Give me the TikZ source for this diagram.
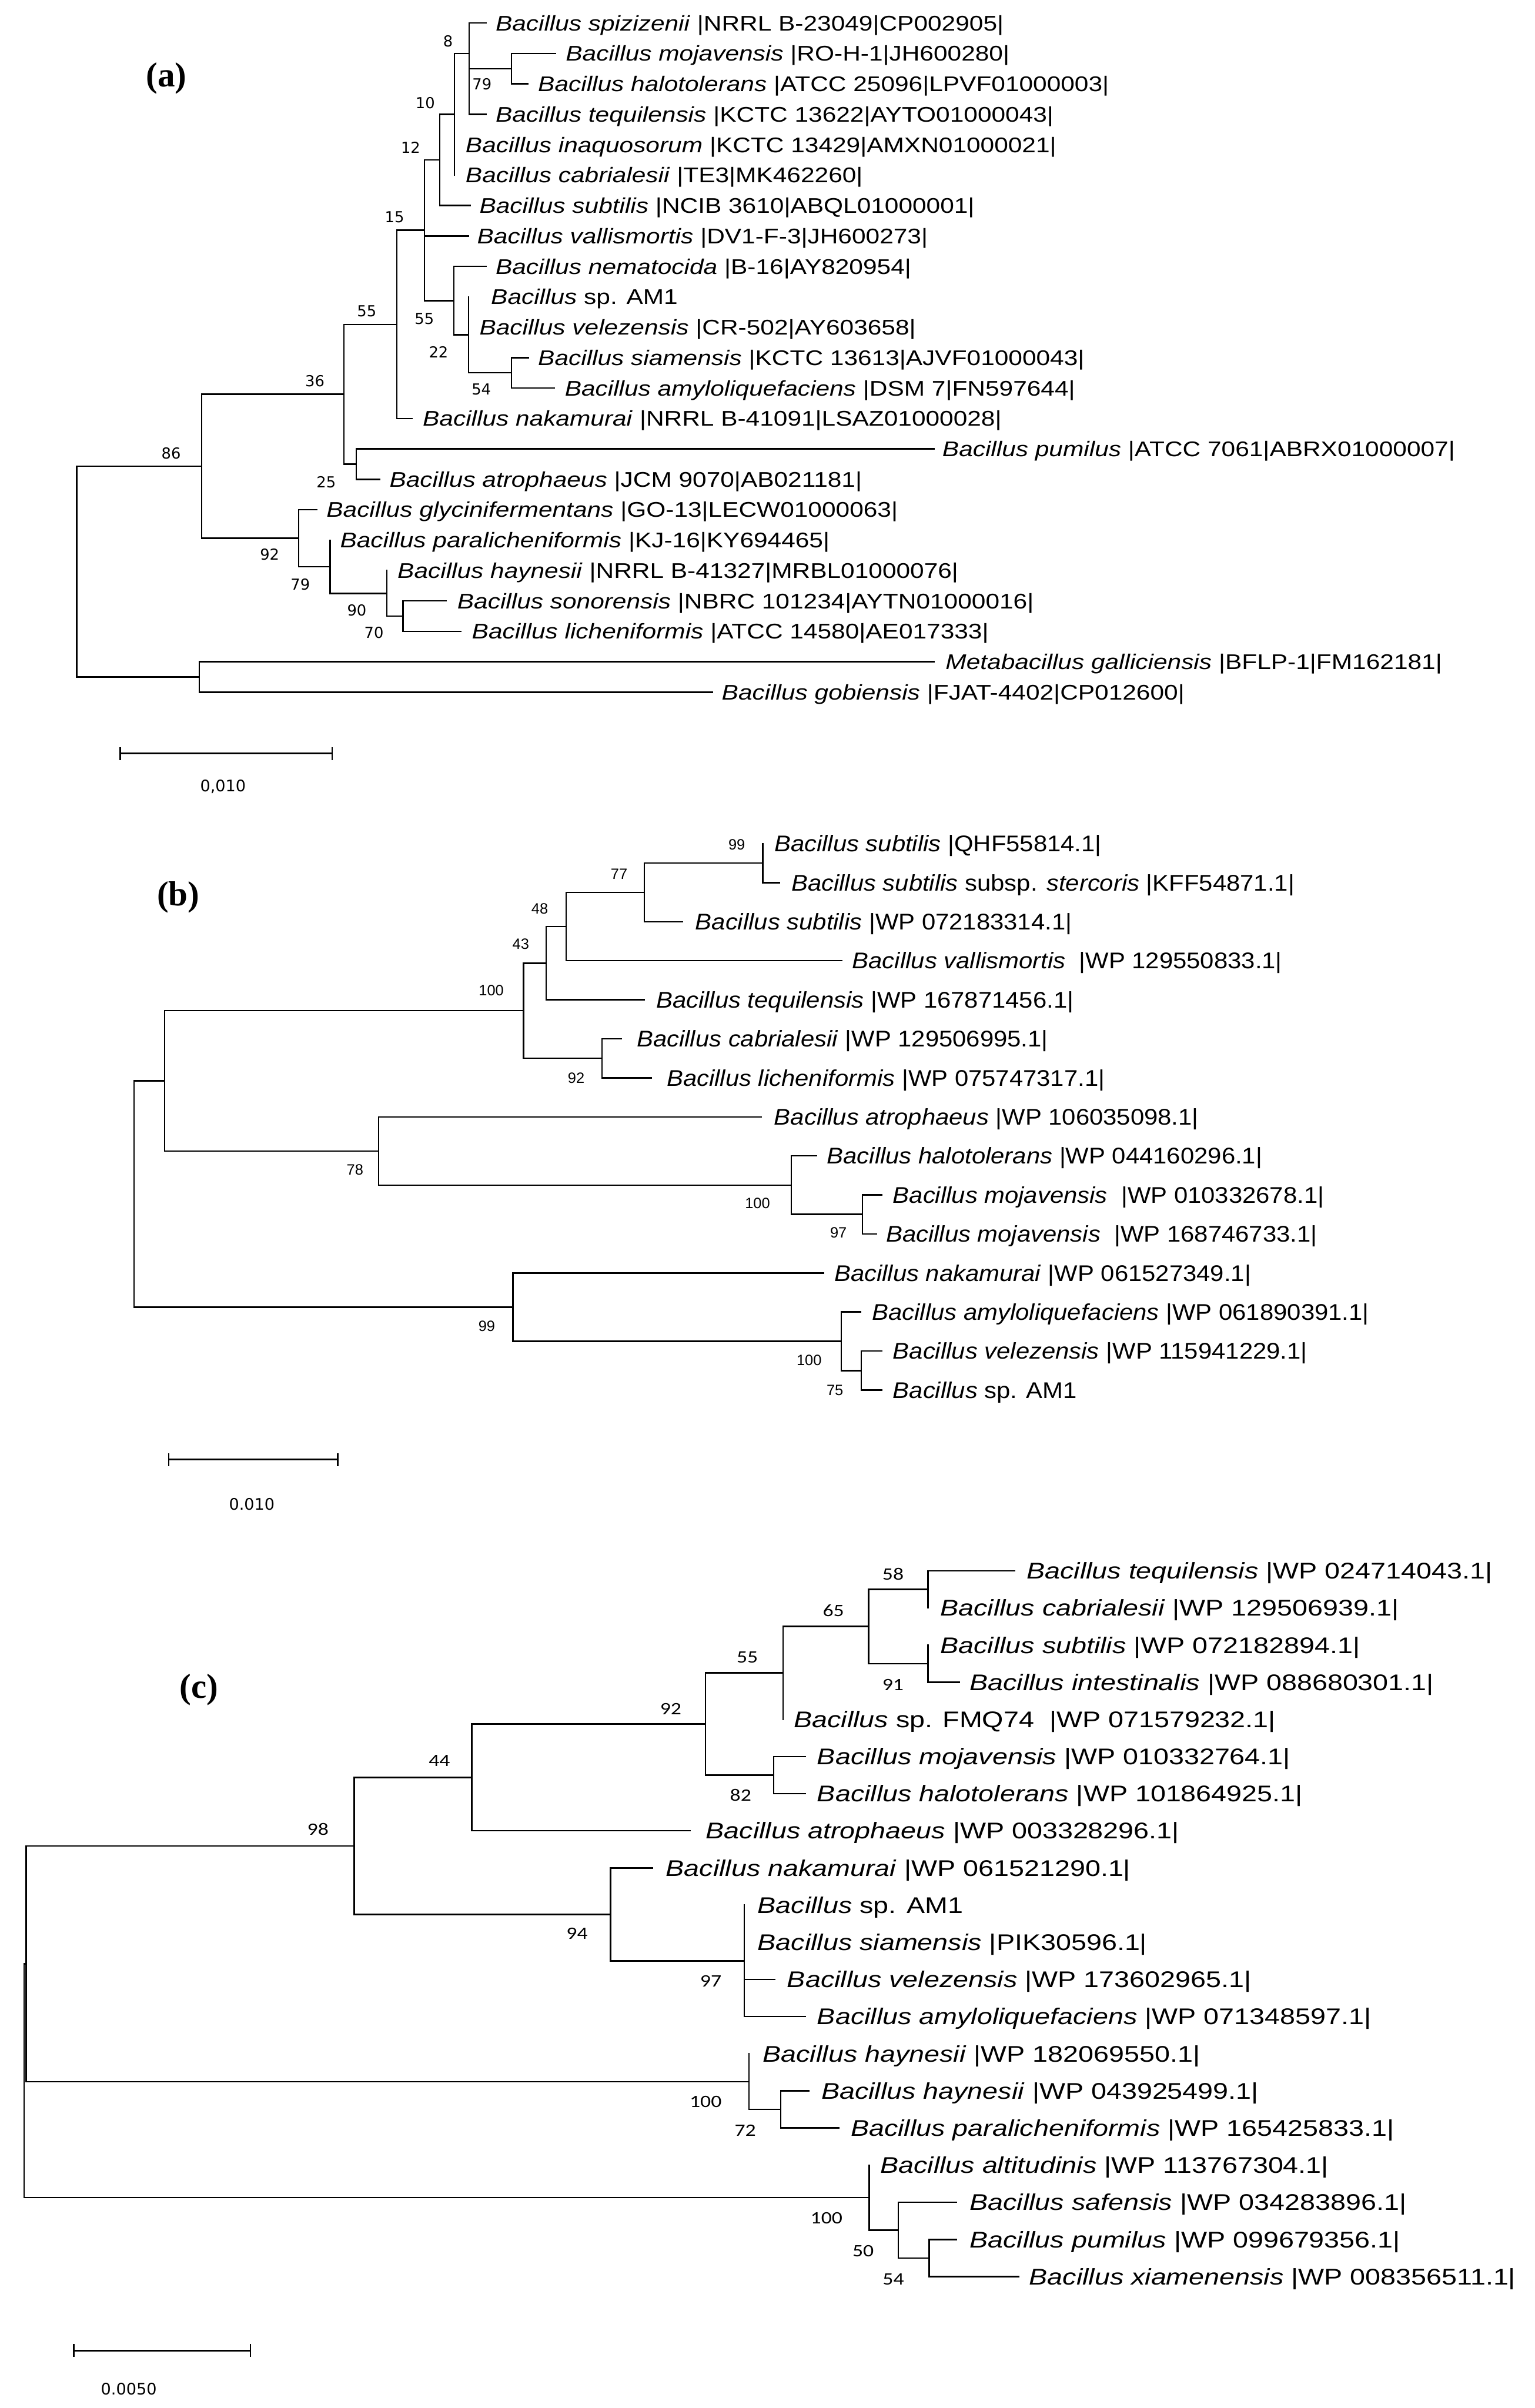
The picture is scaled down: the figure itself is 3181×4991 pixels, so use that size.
\documentclass[tikz,border=0pt]{standalone}
\usepackage{fontspec}
\setmainfont{Liberation Sans}
\newfontfamily\labfont{Liberation Sans}
\newfontfamily\dvfont{DejaVu Sans}
\newfontfamily\calfont{Carlito}
\newfontfamily\serfont{Liberation Serif}
\newcommand{\scla}[1]{\scalebox{1.175}[1]{#1}}
\newcommand{\sclb}[1]{\scalebox{1.085}[1]{#1}}
\newcommand{\sclc}[1]{\scalebox{1.21}[1]{#1}}
\newcommand{\brH}[2]{\draw[br] (#1|-#2) -- (#2);}
\newcommand{\brV}[3]{\draw[br] (#1|-#2) -- (#1|-#3);}
\tikzset{
 br/.style={line width=0.3mm, line cap=rect},
 la/.style={anchor=base west, inner sep=0pt, yshift=-1.58mm, font=\labfont\fontsize{12.52}{15}\selectfont},
 lb/.style={anchor=base west, inner sep=0pt, yshift=-1.68mm, font=\labfont\fontsize{13.37}{16}\selectfont},
 lc/.style={anchor=base west, inner sep=0pt, yshift=-1.68mm, font=\labfont\fontsize{13.37}{16}\selectfont},
 bsa/.style={inner sep=0pt, font=\dvfont\fontsize{8.93}{10}\selectfont},
 bsb/.style={inner sep=0pt, font=\labfont\fontsize{8.82}{10}\selectfont},
 bsc/.style={inner sep=0pt, font=\calfont\fontsize{10.24}{12}\selectfont},
 scl/.style={inner sep=0pt, font=\dvfont\fontsize{9.39}{11}\selectfont},
 pan/.style={inner sep=0pt, font=\serfont\bfseries\fontsize{20.49}{24}\selectfont},
}
\begin{document}
\begin{tikzpicture}[x=0.1mm,y=-0.1mm]
\fill[white] (0,0) rectangle (3181,4991);
\useasboundingbox (0,0) rectangle (3181,4991);

% ================= PANEL (a) =================
\node[pan] (pa) at (345,163) {(a)};
\coordinate (aR) at (159.1,1184.8);
\coordinate (aA) at (418.2,966.3);
\coordinate (aB) at (712.9,817.1);
\coordinate (aD) at (822.5,672.3);
\coordinate (aF) at (879.5,477.3);
\coordinate (aG) at (911.6,331.5);
\coordinate (aN10) at (941.9,236.9);
\coordinate (aN8) at (972.2,110.8);
\coordinate (aN79) at (1060.1,142.4);
\coordinate (aH) at (940.7,623);
\coordinate (aN22) at (971,694);
\coordinate (aN54) at (1060,772.7);
\coordinate (aE) at (738.3,961.9);
\coordinate (aC) at (619.1,1115.6);
\coordinate (aN79b) at (684.1,1174.7);
\coordinate (aN90) at (801.9,1229.8);
\coordinate (aN70) at (835.4,1277.1);
\coordinate (aO) at (412.9,1403.2);
\coordinate (a0) at (1007.3,47.8);
\coordinate (a1) at (1150.9,110.8);
\coordinate (a2) at (1093.5,173.9);
\coordinate (a3) at (1007.4,236.9);
\coordinate (a4) at (941.9,300.0);
\coordinate (a5) at (941.9,363.0);
\coordinate (a6) at (974,426.0);
\coordinate (a7) at (971,489.1);
\coordinate (a8) at (1007.4,552.1);
\coordinate (a9) at (971,615.2);
\coordinate (a10) at (971,678.2);
\coordinate (a11) at (1095.4,741.2);
\coordinate (a12) at (1149,804.3);
\coordinate (a13) at (853.5,867.3);
\coordinate (a14) at (1935.3,930.4);
\coordinate (a15) at (786.5,993.4);
\coordinate (a16) at (656,1056.4);
\coordinate (a17) at (684.1,1119.5);
\coordinate (a18) at (801.9,1182.5);
\coordinate (a19) at (925.1,1245.6);
\coordinate (a20) at (955.3,1308.6);
\coordinate (a21) at (1935.3,1371.6);
\coordinate (a22) at (1476.1,1434.7);

\brV{aR}{aA}{aO} \brH{aR}{aA} \brH{aR}{aO}
\brV{aA}{aB}{aC} \brH{aA}{aB} \brH{aA}{aC}
\brV{aB}{aD}{aE} \brH{aB}{aD} \brH{aB}{aE}
\brV{aD}{aF}{a13} \brH{aD}{aF} \brH{aD}{a13}
\brV{aF}{aG}{aH} \brH{aF}{aG} \brH{aF}{a7} \brH{aF}{aH}
\brV{aG}{aN10}{a6} \brH{aG}{aN10} \brH{aG}{a6}
\brV{aN10}{aN8}{a5} \brH{aN10}{aN8}
\brV{aN8}{a0}{a3} \brH{aN8}{a0} \brH{aN8}{aN79} \brH{aN8}{a3}
\brV{aN79}{a1}{a2} \brH{aN79}{a1} \brH{aN79}{a2}
\brV{aH}{a8}{aN22} \brH{aH}{a8} \brH{aH}{aN22}
\brV{aN22}{a9}{aN54} \brH{aN22}{aN54}
\brV{aN54}{a11}{a12} \brH{aN54}{a11} \brH{aN54}{a12}
\brV{aE}{a14}{a15} \brH{aE}{a14} \brH{aE}{a15}
\brV{aC}{a16}{aN79b} \brH{aC}{a16} \brH{aC}{aN79b}
\brV{aN79b}{a17}{aN90} \brH{aN79b}{aN90}
\brV{aN90}{a18}{aN70} \brH{aN90}{aN70}
\brV{aN70}{a19}{a20} \brH{aN70}{a19} \brH{aN70}{a20}
\brV{aO}{a21}{a22} \brH{aO}{a21} \brH{aO}{a22}

\node[la] (ta0) at (1026.5,47.8) {\scla{\textit{Bacillus spizizenii} |NRRL B-23049|CP002905|}};
\node[la] (ta1) at (1172,110.8) {\scla{\textit{Bacillus mojavensis} |RO-H-1|JH600280|}};
\node[la] (ta2) at (1114.5,173.9) {\scla{\textit{Bacillus halotolerans} |ATCC 25096|LPVF01000003|}};
\node[la] (ta3) at (1026.5,236.9) {\scla{\textit{Bacillus tequilensis} |KCTC 13622|AYTO01000043|}};
\node[la] (ta4) at (964.3,300.0) {\scla{\textit{Bacillus inaquosorum} |KCTC 13429|AMXN01000021|}};
\node[la] (ta5) at (964.3,363.0) {\scla{\textit{Bacillus cabrialesii} |TE3|MK462260|}};
\node[la] (ta6) at (993,426.0) {\scla{\textit{Bacillus subtilis} |NCIB 3610|ABQL01000001|}};
\node[la] (ta7) at (988.3,489.1) {\scla{\textit{Bacillus vallismortis} |DV1-F-3|JH600273|}};
\node[la] (ta8) at (1026.5,552.1) {\scla{\textit{Bacillus nematocida} |B-16|AY820954|}};
\node[la] (ta9) at (1017,615.2) {\scla{\textit{Bacillus} sp. AM1}};
\node[la] (ta10) at (993,678.2) {\scla{\textit{Bacillus velezensis} |CR-502|AY603658|}};
\node[la] (ta11) at (1114.5,741.2) {\scla{\textit{Bacillus siamensis} |KCTC 13613|AJVF01000043|}};
\node[la] (ta12) at (1170,804.3) {\scla{\textit{Bacillus amyloliquefaciens} |DSM 7|FN597644|}};
\node[la] (ta13) at (875.6,867.3) {\scla{\textit{Bacillus nakamurai} |NRRL B-41091|LSAZ01000028|}};
\node[la] (ta14) at (1952.5,930.4) {\scla{\textit{Bacillus pumilus} |ATCC 7061|ABRX01000007|}};
\node[la] (ta15) at (806.6,993.4) {\scla{\textit{Bacillus atrophaeus} |JCM 9070|AB021181|}};
\node[la] (ta16) at (676,1056.4) {\scla{\textit{Bacillus glycinifermentans} |GO-13|LECW01000063|}};
\node[la] (ta17) at (704.2,1119.5) {\scla{\textit{Bacillus paralicheniformis} |KJ-16|KY694465|}};
\node[la] (ta18) at (823.3,1182.5) {\scla{\textit{Bacillus haynesii} |NRRL B-41327|MRBL01000076|}};
\node[la] (ta19) at (947.2,1245.6) {\scla{\textit{Bacillus sonorensis} |NBRC 101234|AYTN01000016|}};
\node[la] (ta20) at (977.4,1308.6) {\scla{\textit{Bacillus licheniformis} |ATCC 14580|AE017333|}};
\node[la] (ta21) at (1959.2,1371.6) {\scla{\textit{Metabacillus galliciensis} |BFLP-1|FM162181|}};
\node[la] (ta22) at (1495.3,1434.7) {\scla{\textit{Bacillus gobiensis} |FJAT-4402|CP012600|}};

\node[bsa] (ba1) at (928.6,85) {8};
\node[bsa] (ba2) at (999,174.3) {79};
\node[bsa] (ba3) at (881.3,213.5) {10};
\node[bsa] (ba4) at (851,305.4) {12};
\node[bsa] (ba5) at (817.7,450) {15};
\node[bsa] (ba6) at (760.1,645.2) {55};
\node[bsa] (ba7) at (879.5,661.2) {55};
\node[bsa] (ba8) at (909,730.2) {22};
\node[bsa] (ba9) at (997.6,806.8) {54};
\node[bsa] (ba10) at (652.6,789.9) {36};
\node[bsa] (ba11) at (354.6,940) {86};
\node[bsa] (ba12) at (676,999.7) {25};
\node[bsa] (ba13) at (558.9,1148.7) {92};
\node[bsa] (ba14) at (622.5,1211.1) {79};
\node[bsa] (ba15) at (739.6,1265.3) {90};
\node[bsa] (ba16) at (775.1,1311.4) {70};

\coordinate (sa1) at (249,1561.7);
\coordinate (sa2) at (688.3,1561.7);
\draw[br] (sa1) -- (sa2);
\draw[br] ([yshift=1.2mm]sa1) -- ([yshift=-1.2mm]sa1);
\draw[br] ([yshift=1.2mm]sa2) -- ([yshift=-1.2mm]sa2);
\node[scl] (sla) at (462.2,1630.7) {0,010};

% ================= PANEL (b) =================
\node[pan] (pb) at (369.6,1860) {(b)};
\coordinate (bR) at (278,2474.8);
\coordinate (bP) at (340.9,2240.3);
\coordinate (bN100) at (1085.1,2094.9);
\coordinate (bN43) at (1132,1996.3);
\coordinate (bN48) at (1173.1,1920.4);
\coordinate (bN77) at (1335.7,1849.6);
\coordinate (bN99) at (1581,1789);
\coordinate (bN92) at (1247.7,2193.5);
\coordinate (bN78) at (784.5,2385.6);
\coordinate (bN100c) at (1640,2456.4);
\coordinate (bN97) at (1787.7,2517);
\coordinate (bQ) at (1063.2,2709.2);
\coordinate (bN100d) at (1743.5,2780);
\coordinate (bN75) at (1785,2840.7);
\coordinate (b0) at (1581,1748.5);
\coordinate (b1) at (1615.7,1829.4);
\coordinate (b2) at (1414.8,1910.3);
\coordinate (b3) at (1744.8,1991.2);
\coordinate (b4) at (1335.7,2072.1);
\coordinate (b5) at (1287.9,2153);
\coordinate (b6) at (1350.1,2233.9);
\coordinate (b7) at (1578.1,2314.8);
\coordinate (b8) at (1692.2,2395.7);
\coordinate (b9) at (1828,2476.6);
\coordinate (b10) at (1816.6,2557.5);
\coordinate (b11) at (1707.4,2638.4);
\coordinate (b12) at (1783,2719.3);
\coordinate (b13) at (1828,2800.2);
\coordinate (b14) at (1828,2881.1);

\brV{bR}{bP}{bQ} \brH{bR}{bP} \brH{bR}{bQ}
\brV{bP}{bN100}{bN78} \brH{bP}{bN100} \brH{bP}{bN78}
\brV{bN100}{bN43}{bN92} \brH{bN100}{bN43} \brH{bN100}{bN92}
\brV{bN43}{bN48}{b4} \brH{bN43}{bN48} \brH{bN43}{b4}
\brV{bN48}{bN77}{b3} \brH{bN48}{bN77} \brH{bN48}{b3}
\brV{bN77}{bN99}{b2} \brH{bN77}{bN99} \brH{bN77}{b2}
\brV{bN99}{b0}{b1} \brH{bN99}{b1}
\brV{bN92}{b5}{b6} \brH{bN92}{b5} \brH{bN92}{b6}
\brV{bN78}{b7}{bN100c} \brH{bN78}{b7} \brH{bN78}{bN100c}
\brV{bN100c}{b8}{bN97} \brH{bN100c}{b8} \brH{bN100c}{bN97}
\brV{bN97}{b9}{b10} \brH{bN97}{b9} \brH{bN97}{b10}
\brV{bQ}{b11}{bN100d} \brH{bQ}{b11} \brH{bQ}{bN100d}
\brV{bN100d}{b12}{bN75} \brH{bN100d}{b12} \brH{bN100d}{bN75}
\brV{bN75}{b13}{b14} \brH{bN75}{b13} \brH{bN75}{b14}

\node[lb] (tb0) at (1604.2,1748.5) {\sclb{\textit{Bacillus subtilis} |QHF55814.1|}};
\node[lb] (tb1) at (1639.6,1829.4) {\sclb{\textit{Bacillus subtilis} subsp. \textit{stercoris} |KFF54871.1|}};
\node[lb] (tb2) at (1440.6,1910.3) {\sclb{\textit{Bacillus subtilis} |WP 072183314.1|}};
\node[lb] (tb3) at (1765.9,1991.2) {\sclb{\textit{Bacillus vallismortis}\ \ |WP 129550833.1|}};
\node[lb] (tb4) at (1359.3,2072.1) {\sclb{\textit{Bacillus tequilensis} |WP 167871456.1|}};
\node[lb] (tb5) at (1319.3,2153) {\sclb{\textit{Bacillus cabrialesii} |WP 129506995.1|}};
\node[lb] (tb6) at (1381.3,2233.9) {\sclb{\textit{Bacillus licheniformis} |WP 075747317.1|}};
\node[lb] (tb7) at (1604,2314.8) {\sclb{\textit{Bacillus atrophaeus} |WP 106035098.1|}};
\node[lb] (tb8) at (1713.3,2395.7) {\sclb{\textit{Bacillus halotolerans} |WP 044160296.1|}};
\node[lb] (tb9) at (1850,2476.6) {\sclb{\textit{Bacillus mojavensis}\ \ |WP 010332678.1|}};
\node[lb] (tb10) at (1835.7,2557.5) {\sclb{\textit{Bacillus mojavensis}\ \ |WP 168746733.1|}};
\node[lb] (tb11) at (1728.6,2638.4) {\sclb{\textit{Bacillus nakamurai} |WP 061527349.1|}};
\node[lb] (tb12) at (1807,2719.3) {\sclb{\textit{Bacillus amyloliquefaciens} |WP 061890391.1|}};
\node[lb] (tb13) at (1850,2800.2) {\sclb{\textit{Bacillus velezensis} |WP 115941229.1|}};
\node[lb] (tb14) at (1850,2881.1) {\sclb{\textit{Bacillus} sp. AM1}};

\node[bsb] (bb1) at (1527,1750.4) {99};
\node[bsb] (bb2) at (1283.1,1811.7) {77};
\node[bsb] (bb3) at (1118.6,1883.2) {48};
\node[bsb] (bb4) at (1079.4,1957.1) {43};
\node[bsb] (bb5) at (1018.2,2053) {100};
\node[bsb] (bb6) at (1194.2,2234.2) {92};
\node[bsb] (bb7) at (735.7,2424.1) {78};
\node[bsb] (bb8) at (1570,2494.2) {100};
\node[bsb] (bb9) at (1737.8,2555) {97};
\node[bsb] (bb10) at (1008.9,2749.1) {99};
\node[bsb] (bb11) at (1677,2819) {100};
\node[bsb] (bb12) at (1730.5,2881.1) {75};

\coordinate (sb1) at (350,3025);
\coordinate (sb2) at (700,3025);
\draw[br] (sb1) -- (sb2);
\draw[br] ([yshift=1.2mm]sb1) -- ([yshift=-1.2mm]sb1);
\draw[br] ([yshift=1.2mm]sb2) -- ([yshift=-1.2mm]sb2);
\node[scl] (slb) at (522,3118) {0.010};

% ================= PANEL (c) =================
\node[pan] (pc) at (412.5,3502.7) {(c)};
\coordinate (cR0) at (50,4312);
\coordinate (cR1) at (54,4070.1);
\coordinate (cN98) at (733.9,3825.9);
\coordinate (cN44) at (977.7,3683.9);
\coordinate (cN92) at (1462.5,3573.2);
\coordinate (cN55) at (1623.2,3467.4);
\coordinate (cN65) at (1800.2,3371.1);
\coordinate (cN58) at (1923.5,3294.1);
\coordinate (cN91) at (1923.5,3448.1);
\coordinate (cN82) at (1603.5,3679.1);
\coordinate (cN94) at (1265.6,3967.9);
\coordinate (cN97) at (1542.9,4064.1);
\coordinate (cN100h) at (1552.5,4314.4);
\coordinate (cN72) at (1617.9,4372.1);
\coordinate (cN100p) at (1801.8,4555);
\coordinate (cN50) at (1862,4622.4);
\coordinate (cN54) at (1925.6,4680.1);
\coordinate (c0) at (2102.5,3255.6);
\coordinate (c1) at (1923.5,3332.6);
\coordinate (c2) at (1923.5,3409.6);
\coordinate (c3) at (1987.8,3486.6);
\coordinate (c4) at (1623.2,3563.6);
\coordinate (c5) at (1669.4,3640.6);
\coordinate (c6) at (1669.4,3717.6);
\coordinate (c7) at (1430.4,3794.6);
\coordinate (c8) at (1352.7,3871.6);
\coordinate (c9) at (1542.9,3948.6);
\coordinate (c10) at (1542.9,4025.6);
\coordinate (c11) at (1606,4102.6);
\coordinate (c12) at (1669.4,4179.6);
\coordinate (c13) at (1552.5,4256.6);
\coordinate (c14) at (1676.9,4333.6);
\coordinate (c15) at (1738,4410.6);
\coordinate (c16) at (1801.8,4487.6);
\coordinate (c17) at (1982.4,4564.6);
\coordinate (c18) at (1982.4,4641.6);
\coordinate (c19) at (2111.1,4718.6);

\brV{cR0}{cR1}{cN100p} \brH{cR0}{cR1} \brH{cR0}{cN100p}
\brV{cR1}{cN98}{cN100h} \brH{cR1}{cN98} \brH{cR1}{cN100h}
\brV{cN98}{cN44}{cN94} \brH{cN98}{cN44} \brH{cN98}{cN94}
\brV{cN44}{cN92}{c7} \brH{cN44}{cN92} \brH{cN44}{c7}
\brV{cN92}{cN55}{cN82} \brH{cN92}{cN55} \brH{cN92}{cN82}
\brV{cN55}{cN65}{c4} \brH{cN55}{cN65}
\brV{cN65}{cN58}{cN91} \brH{cN65}{cN58} \brH{cN65}{cN91}
\brV{cN58}{c0}{c1} \brH{cN58}{c0}
\brV{cN91}{c2}{c3} \brH{cN91}{c3}
\brV{cN82}{c5}{c6} \brH{cN82}{c5} \brH{cN82}{c6}
\brV{cN94}{c8}{cN97} \brH{cN94}{c8} \brH{cN94}{cN97}
\brV{cN97}{c9}{c12} \brH{cN97}{c11} \brH{cN97}{c12}
\brV{cN100h}{c13}{cN72} \brH{cN100h}{cN72}
\brV{cN72}{c14}{c15} \brH{cN72}{c14} \brH{cN72}{c15}
\brV{cN100p}{c16}{cN50} \brH{cN100p}{cN50}
\brV{cN50}{c17}{cN54} \brH{cN50}{c17} \brH{cN50}{cN54}
\brV{cN54}{c18}{c19} \brH{cN54}{c18} \brH{cN54}{c19}

\node[lc] (tc0) at (2127.2,3255.6) {\sclc{\textit{Bacillus tequilensis} |WP 024714043.1|}};
\node[lc] (tc1) at (1948.1,3332.6) {\sclc{\textit{Bacillus cabrialesii} |WP 129506939.1|}};
\node[lc] (tc2) at (1948.1,3409.6) {\sclc{\textit{Bacillus subtilis} |WP 072182894.1|}};
\node[lc] (tc3) at (2009.2,3486.6) {\sclc{\textit{Bacillus intestinalis} |WP 088680301.1|}};
\node[lc] (tc4) at (1644.7,3563.6) {\sclc{\textit{Bacillus} sp. FMQ74\ \ |WP 071579232.1|}};
\node[lc] (tc5) at (1693,3640.6) {\sclc{\textit{Bacillus mojavensis} |WP 010332764.1|}};
\node[lc] (tc6) at (1693,3717.6) {\sclc{\textit{Bacillus halotolerans} |WP 101864925.1|}};
\node[lc] (tc7) at (1462.5,3794.6) {\sclc{\textit{Bacillus atrophaeus} |WP 003328296.1|}};
\node[lc] (tc8) at (1379.5,3871.6) {\sclc{\textit{Bacillus nakamurai} |WP 061521290.1|}};
\node[lc] (tc9) at (1569.7,3948.6) {\sclc{\textit{Bacillus} sp. AM1}};
\node[lc] (tc10) at (1569.7,4025.6) {\sclc{\textit{Bacillus siamensis} |PIK30596.1|}};
\node[lc] (tc11) at (1630.8,4102.6) {\sclc{\textit{Bacillus velezensis} |WP 173602965.1|}};
\node[lc] (tc12) at (1693,4179.6) {\sclc{\textit{Bacillus amyloliquefaciens} |WP 071348597.1|}};
\node[lc] (tc13) at (1580.4,4256.6) {\sclc{\textit{Bacillus haynesii} |WP 182069550.1|}};
\node[lc] (tc14) at (1701.6,4333.6) {\sclc{\textit{Bacillus haynesii} |WP 043925499.1|}};
\node[lc] (tc15) at (1762.7,4410.6) {\sclc{\textit{Bacillus paralicheniformis} |WP 165425833.1|}};
\node[lc] (tc16) at (1823.8,4487.6) {\sclc{\textit{Bacillus altitudinis} |WP 113767304.1|}};
\node[lc] (tc17) at (2009.2,4564.6) {\sclc{\textit{Bacillus safensis} |WP 034283896.1|}};
\node[lc] (tc18) at (2009.2,4641.6) {\sclc{\textit{Bacillus pumilus} |WP 099679356.1|}};
\node[lc] (tc19) at (2132.5,4718.6) {\sclc{\textit{Bacillus xiamenensis} |WP 008356511.1|}};

\node[bsc] (bc1) at (1851,3262.3) {\sclc{58}};
\node[bsc] (bc2) at (1727.5,3337.8) {\sclc{65}};
\node[bsc] (bc3) at (1549,3435.6) {\sclc{55}};
\node[bsc] (bc4) at (1850.8,3491.8) {\sclc{91}};
\node[bsc] (bc5) at (1390.2,3542.2) {\sclc{92}};
\node[bsc] (bc6) at (910.7,3649) {\sclc{44}};
\node[bsc] (bc7) at (1535,3720.5) {\sclc{82}};
\node[bsc] (bc8) at (658.9,3791.6) {\sclc{98}};
\node[bsc] (bc9) at (1196,4007.3) {\sclc{94}};
\node[bsc] (bc10) at (1473.2,4106.1) {\sclc{97}};
\node[bsc] (bc11) at (1462.5,4356.2) {\sclc{100}};
\node[bsc] (bc12) at (1544.6,4415.5) {\sclc{72}};
\node[bsc] (bc13) at (1713,4597.3) {\sclc{100}};
\node[bsc] (bc14) at (1789,4666) {\sclc{50}};
\node[bsc] (bc15) at (1851.5,4724) {\sclc{54}};

\coordinate (sc1) at (153,4872);
\coordinate (sc2) at (519,4872);
\draw[br] (sc1) -- (sc2);
\draw[br] ([yshift=1.2mm]sc1) -- ([yshift=-1.2mm]sc1);
\draw[br] ([yshift=1.2mm]sc2) -- ([yshift=-1.2mm]sc2);
\node[scl] (slc) at (267,4951) {0.0050};
\end{tikzpicture}
\end{document}
